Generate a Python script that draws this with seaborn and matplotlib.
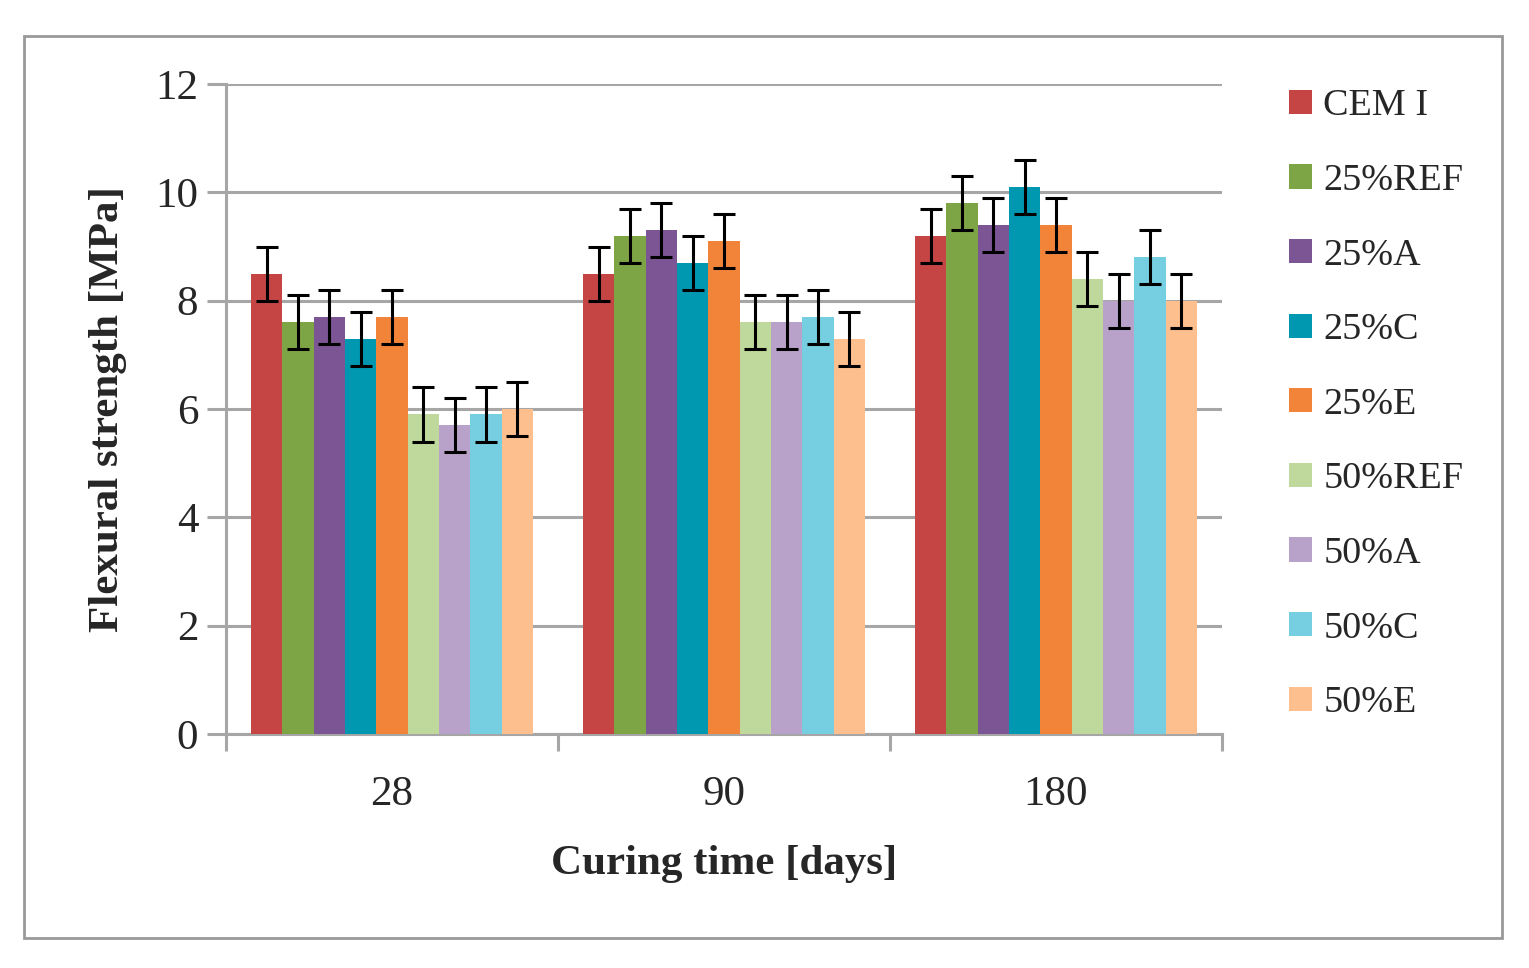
import numpy as np
import pandas as pd
import matplotlib; matplotlib.use("Agg")
import matplotlib.pyplot as plt
import seaborn as sns
from matplotlib.patches import Rectangle

# data
days = ["28", "90", "180"]
mixes = ["CEM I", "25%REF", "25%A", "25%C", "25%E",
         "50%REF", "50%A", "50%C", "50%E"]
strength_28 = [8.5, 7.6, 7.7, 7.3, 7.7, 5.9, 5.7, 5.9, 6.0]
strength_90 = [8.5, 9.2, 9.3, 8.7, 9.1, 7.6, 7.6, 7.7, 7.3]
strength_180 = [9.2, 9.8, 9.4, 10.1, 9.4, 8.4, 8.0, 8.8, 8.0]
err_28 = [0.5] * 9
err_90 = [0.5] * 9
err_180 = [0.5] * 9

colors = ["#C44544", "#7EA545", "#7B5594", "#0098B0", "#F2843A",
          "#BFD89B", "#B9A2C9", "#75CFE0", "#FEBF8E"]
GRID = "#A6A6A6"

rows = []
for d, vals, errs in zip(days, [strength_28, strength_90, strength_180],
                         [err_28, err_90, err_180]):
    for m, v, e in zip(mixes, vals, errs):
        rows.append({"day": d, "mix": m, "value": v, "err": e})
df = pd.DataFrame(rows)

sns.set_style("white")
plt.rcParams["font.family"] = ["Liberation Serif", "DejaVu Serif"]

fig = plt.figure(figsize=(15.29, 9.68), dpi=100)
ax = fig.add_axes([0.1478, 0.2417, 0.6514, 0.6715])

sns.barplot(data=df, x="day", y="value", hue="mix", order=days,
            hue_order=mixes, palette=colors, width=0.85, errorbar=None,
            saturation=1, ax=ax, zorder=3, linewidth=0)

# error bars on the drawn bars
for m_i, m in enumerate(mixes):
    for d_i, d in enumerate(days):
        p = ax.containers[m_i][d_i]
        e = df[(df["day"] == d) & (df["mix"] == m)]["err"].iloc[0]
        ax.errorbar(p.get_x() + p.get_width() / 2, p.get_height(), yerr=e,
                    fmt="none", ecolor="black", elinewidth=2.2, capsize=8,
                    capthick=2.2, zorder=4)

ax.set_ylim(0, 12)
ax.set_yticks(range(0, 13, 2))
ax.set_xlim(-0.5, 2.5)
ax.yaxis.grid(True, color=GRID, linewidth=2.2, zorder=0)
ax.set_axisbelow(True)
for s in ["top", "right"]:
    ax.spines[s].set_visible(False)
for s in ["left", "bottom"]:
    ax.spines[s].set_color(GRID)
    ax.spines[s].set_linewidth(2.2)

# ticks: y ticks outward, x ticks at group boundaries
ax.tick_params(axis="y", which="major", left=True, direction="out", length=14,
               width=2.2, color=GRID, labelsize=31, pad=6)
ax.set_xticks([0, 1, 2])
ax.tick_params(axis="x", which="major", bottom=False, length=0,
               labelsize=31, pad=30)
ax.set_xticks([-0.5, 0.5, 1.5, 2.5], minor=True)
ax.tick_params(axis="x", which="minor", bottom=True, direction="out",
               length=12, width=2.2, color=GRID)

ax.set_xlabel("Curing time [days]", fontsize=31, fontweight="bold", labelpad=22)
ax.set_ylabel("Flexural strength [MPa]", fontsize=31, fontweight="bold",
              labelpad=20)

ax.legend(loc="upper left", bbox_to_anchor=(1.052, 1.016), frameon=False,
          fontsize=27.5, handlelength=0.6, handleheight=0.6,
          handletextpad=0.3, labelspacing=1.05, borderaxespad=0)

fig.patches.append(Rectangle((24 / 1529, 1 - 938 / 968), (1502 - 24) / 1529,
                             (938 - 36) / 968, transform=fig.transFigure,
                             fill=False, edgecolor="#999999", linewidth=2))

fig.savefig("out.png", dpi=100)
